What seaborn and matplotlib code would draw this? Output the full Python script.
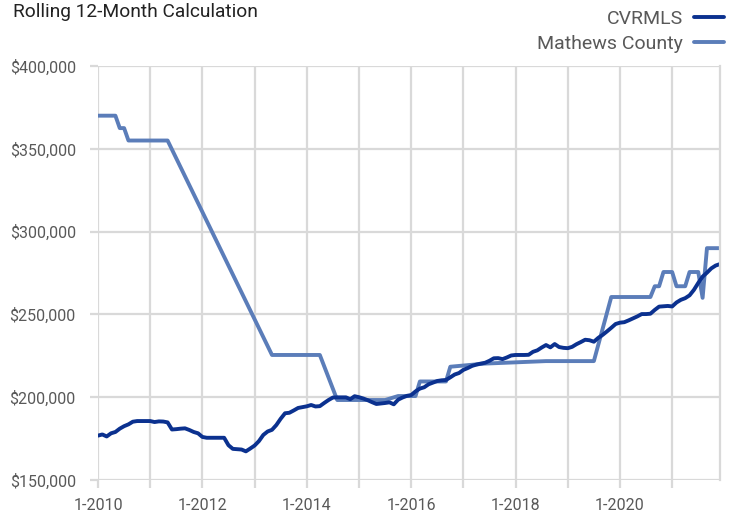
import matplotlib
matplotlib.use("Agg")
import matplotlib.pyplot as plt
from matplotlib import font_manager
from matplotlib.lines import Line2D
import seaborn as sns
import pandas as pd

# ---- data ----
start_year = 2010
cvrmls_values = [
    176800, 177500, 176300, 178200, 179000, 181000, 182500, 183600, 185200, 185600, 185600, 185600,
    185600, 185000, 185400, 185300, 184800, 180500, 180700, 181000, 181200, 180200, 179000, 178200,
    176000, 175500, 175500, 175500, 175500, 175500, 171000, 168800, 168600, 168400, 167300, 169000,
    170800, 173500, 177200, 179300, 180300, 183200, 187000, 190300, 190600, 192000, 193500, 194000,
    194500, 195300, 194400, 194600, 196500, 198300, 199800, 199900, 199900, 199900, 198800, 200600,
    200000, 199200, 198200, 197000, 195900, 196200, 196500, 196900, 195700, 198500, 199800, 200800,
    201300, 203500, 205200, 206000, 207800, 208800, 209800, 210200, 210400, 212000, 213700, 214600,
    216500, 217600, 218900, 219700, 220300, 220800, 222000, 223500, 223600, 223000, 224000, 225200,
    225500, 225500, 225500, 225600, 227400, 228300, 230000, 231500, 230100, 232100, 230300, 229800,
    229600, 230400, 232000, 233300, 234700, 234400, 233500, 235800, 237600, 239700, 241900, 244200,
    245000, 245300, 246400, 247600, 248800, 250200, 250200, 250400, 252700, 254700, 254900, 255100,
    254800, 257200, 258800, 259800, 261500, 264800, 269000, 272800, 275200, 277800, 279500, 280400,
]
cvrmls_months = list(range(len(cvrmls_values)))

mathews_months = [0, 4, 5, 6, 7, 16, 40, 51, 55, 66, 69, 73, 74, 80, 81, 89, 103, 114, 118,
                  127, 128, 129, 130, 132, 133, 135, 136, 138, 139, 140, 143]
mathews_values = [370000, 370000, 362500, 362500, 355000, 355000, 225500, 225500, 198300, 198300,
                  200700, 200700, 209500, 209500, 218400, 220300, 221800, 221800, 260500,
                  260500, 267000, 267000, 275600, 275600, 267000, 267000, 275600, 275600,
                  260000, 290000, 290000]

series_names = ["CVRMLS", "Mathews County"]
series_colors = ["#0B318F", "#5B7DB9"]
y_ticks = [150000, 200000, 250000, 300000, 350000, 400000]
year_ticks = list(range(2010, 2022))

# ---- styling ----
sns.set_theme(style="white")
avail = {f.name for f in font_manager.fontManager.ttflist}
base_font = "Roboto" if "Roboto" in avail else "DejaVu Sans"
plt.rcParams["font.family"] = [base_font, "DejaVu Sans"]

df = pd.concat([
    pd.DataFrame({"month": cvrmls_months, "value": cvrmls_values, "series": series_names[0]}),
    pd.DataFrame({"month": mathews_months, "value": mathews_values, "series": series_names[1]}),
])

fig = plt.figure(figsize=(7.32, 5.15), dpi=100)
ax = fig.add_axes([98 / 732, 1 - 480 / 515, (720 - 98) / 732, (480 - 66) / 515])

grid_c = "#D9D9D9"
sns.lineplot(data=df, x="month", y="value", hue="series", hue_order=series_names[::-1],
             palette={series_names[0]: series_colors[0], series_names[1]: series_colors[1]},
             linewidth=2.8, ax=ax, legend=False, estimator=None, sort=False)

ax.set_xlim(0, 143)
ax.set_ylim(150000, 400000)
ax.set_yticks(y_ticks)
ax.set_yticklabels([f"${v:,.0f}" for v in y_ticks])
xt = [(y - start_year) * 12 for y in year_ticks]
ax.set_xticks(xt)
ax.set_xticklabels([f"1-{y}" if (y - start_year) % 2 == 0 else "" for y in year_ticks])
ax.set_xlabel("")
ax.set_ylabel("")
ax.grid(True, color=grid_c, linewidth=1.6)
ax.set_axisbelow(True)
for s in ["top", "left", "bottom"]:
    ax.spines[s].set_visible(False)
ax.spines["right"].set_color(grid_c)
ax.spines["right"].set_linewidth(1.6)
ax.tick_params(axis="both", which="major", length=6, width=1.6, color=grid_c,
               labelcolor="#595959", labelsize=11.5, left=True, bottom=True)
ax.tick_params(axis="y", pad=10)
ax.tick_params(axis="x", pad=7)

fig.text(13 / 732, 1 - 12 / 515, "Rolling 12-Month Calculation", fontsize=13.8,
         color="#222222", va="center", ha="left")

# legend
handles = [Line2D([0], [0], color=c, linewidth=2.8) for c in series_colors]
leg = fig.legend(handles, series_names, loc="upper right", bbox_to_anchor=(724 / 732, 1 - 10 / 515),
                 frameon=False, markerfirst=False, fontsize=14, labelspacing=0.35,
                 handlelength=1.55, handletextpad=0.55, borderaxespad=0, borderpad=0)
for t in leg.get_texts():
    t.set_color("#595959")

fig.savefig("out.png", dpi=100)
